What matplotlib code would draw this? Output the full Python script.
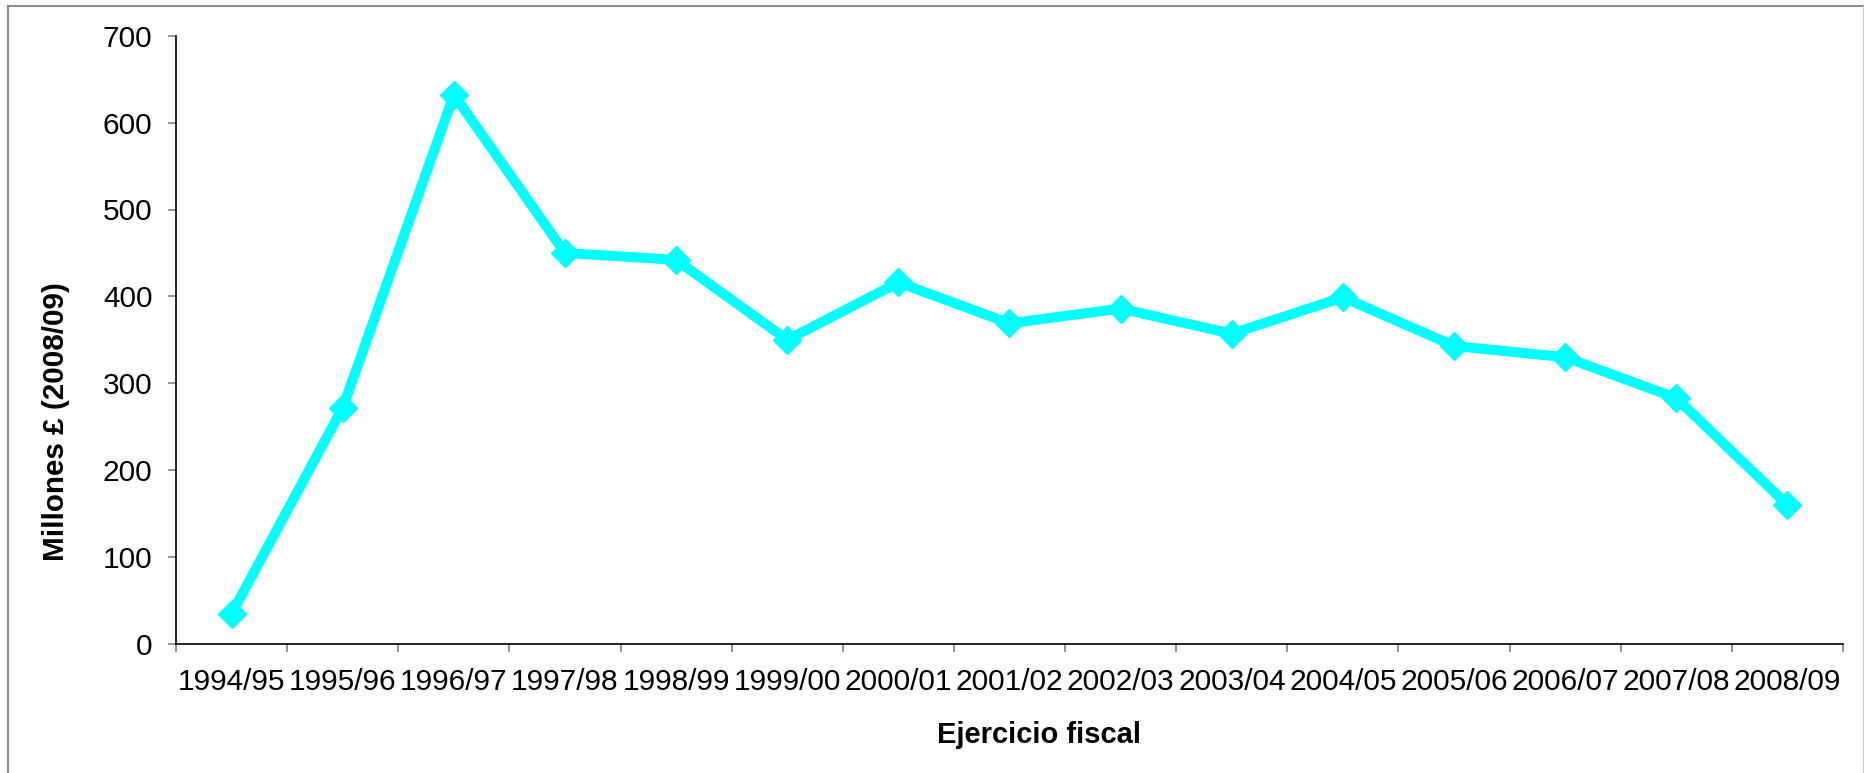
import matplotlib
matplotlib.use("Agg")
import matplotlib.pyplot as plt
from matplotlib.lines import Line2D
from matplotlib.ticker import FixedLocator, NullFormatter

plt.rcParams['font.family'] = ['Liberation Sans', 'DejaVu Sans']

years = ["1994/95", "1995/96", "1996/97", "1997/98", "1998/99", "1999/00",
         "2000/01", "2001/02", "2002/03", "2003/04", "2004/05", "2005/06",
         "2006/07", "2007/08", "2008/09"]
values = [35, 272, 632, 450, 442, 350, 416, 369, 386, 357, 399, 343, 330, 283, 160]
y_ticks = [0, 100, 200, 300, 400, 500, 600, 700]

cyan = "#00FFFF"
tick_gray = "#808080"
W, H = 1865, 773

fig = plt.figure(figsize=(W / 100, H / 100), dpi=100)
ax = fig.add_axes([176 / W, 1 - 644 / H, (1843 - 176) / W, (644 - 35.7) / H])

x = list(range(len(years)))
ax.plot(x, values, color=cyan, linewidth=7.2, marker="D", markersize=14,
        markerfacecolor=cyan, markeredgecolor=cyan, markeredgewidth=1,
        solid_joinstyle="miter", clip_on=False, zorder=3)

ax.set_xlim(-0.5, len(years) - 0.5)
ax.set_ylim(0, 700)
ax.set_yticks(y_ticks)
ax.set_yticklabels([str(v) for v in y_ticks])

# category boundaries carry the tick marks, centres carry the labels
ax.xaxis.set_major_locator(FixedLocator([i - 0.5 for i in range(len(years) + 1)]))
ax.xaxis.set_major_formatter(NullFormatter())
ax.xaxis.set_minor_locator(FixedLocator(x))
ax.set_xticklabels(years, minor=True)

ax.tick_params(axis="x", which="major", direction="out", length=6, width=1.2,
               color=tick_gray)
ax.tick_params(axis="x", which="minor", length=0, pad=17, labelsize=21.5)
ax.tick_params(axis="y", which="major", direction="out", length=6, width=1.2,
               color=tick_gray, pad=11, labelsize=21.5)

for side in ("top", "right"):
    ax.spines[side].set_visible(False)
for side in ("left", "bottom"):
    ax.spines[side].set_color("black")
    ax.spines[side].set_linewidth(1.2)

ax.set_xlabel("Ejercicio fiscal", fontsize=21, fontweight="bold")
ax.set_ylabel("Millones £ (2008/09)", fontsize=21.3, fontweight="bold")
ax.xaxis.set_label_coords(1039 / W, 1 - 721 / H, transform=fig.transFigure)
ax.yaxis.set_label_coords(70 / W, 1 - 422 / H, transform=fig.transFigure)

# outer chart-area frame
fig.add_artist(Line2D([8 / W, 8 / W], [0, 1 - 6 / H], transform=fig.transFigure,
                      color="#8c8c8c", linewidth=1.5))
fig.add_artist(Line2D([8 / W, 1], [1 - 6 / H, 1 - 6 / H], transform=fig.transFigure,
                      color="#8c8c8c", linewidth=1.5))
fig.add_artist(Line2D([1863.5 / W, 1863.5 / W], [0, 1 - 6 / H], transform=fig.transFigure,
                      color="#cfcfcf", linewidth=1.0))

fig.savefig("out.png", dpi=100)
